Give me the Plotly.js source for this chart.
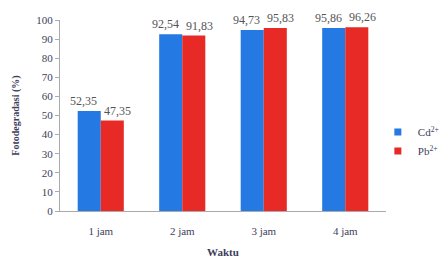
<!DOCTYPE html>
<html>
<head>
<meta charset="utf-8">
<script src="https://cdn.plot.ly/plotly-3.0.1.min.js"></script>
<style>html,body{margin:0;padding:0;background:#fff;}#chart{width:444px;height:259px;}</style>
</head>
<body>
<div id="chart"></div>
<script>
const categories = ["1 jam", "2 jam", "3 jam", "4 jam"];
const cdValues = [52.35, 92.54, 94.73, 95.86];
const pbValues = [47.35, 91.83, 95.83, 96.26];
const yTicks = [0, 10, 20, 30, 40, 50, 60, 70, 80, 90, 100];
const seriesNames = ["Cd<sup>2+</sup>", "Pb<sup>2+</sup>"];
const seriesColors = ["#2479e2", "#e82a26"];

const fmt = v => v.toFixed(2).replace('.', ',');
const FAM = "'Liberation Serif', 'Times New Roman', serif";
const font = {family: FAM, size: 11, color: "#3e3e5c"};

const bar = (vals, i) => ({
  type: "bar", name: seriesNames[i], x: categories, y: vals, showlegend: false,
  marker: {color: seriesColors[i]}
});
const legendItem = i => ({
  type: "scatter", mode: "markers", name: seriesNames[i], x: [null], y: [null],
  marker: {symbol: "square", size: 7, color: seriesColors[i]}, showlegend: true
});

const traces = [bar(cdValues, 0), bar(pbValues, 1), legendItem(0), legendItem(1)];

const labelShift = [-17, 17];
const annotations = [];
[cdValues, pbValues].forEach((vals, s) => {
  vals.forEach((v, k) => {
    annotations.push({x: categories[k], y: v, xref: "x", yref: "y", text: fmt(v),
      showarrow: false, yanchor: "bottom", xanchor: "center", xshift: labelShift[s], yshift: 1,
      font: {family: FAM, size: 12, color: "#555"}});
  });
});

const layout = {
  width: 444, height: 259,
  margin: {l: 60, r: 58, t: 20, b: 48, autoexpand: false},
  paper_bgcolor: "#fff", plot_bgcolor: "#fff",
  font: font,
  barmode: "group", bargap: 0.434, bargroupgap: 0,
  showlegend: true,
  legend: {x: 0.975, y: 0.364, xanchor: "left", yanchor: "middle",
           font: {family: FAM, size: 11, color: "#3e3e5c"},
           itemwidth: 30, bgcolor: "rgba(0,0,0,0)"},
  annotations: annotations,
  xaxis: {showline: true, linecolor: "#aaa", linewidth: 1, ticks: "",
          tickfont: font, showgrid: false, ticklabelstandoff: 10,
          title: {text: "<b>Waktu</b>", font: {family: FAM, size: 11, color: "#3e3e5c"}, standoff: 12}},
  yaxis: {range: [0, 100], tickvals: yTicks, showline: true, linecolor: "#aaa", linewidth: 1,
          ticks: "outside", ticklen: 4, tickcolor: "#aaa", showgrid: false, zeroline: false,
          tickfont: font,
          title: {text: "<b>Fotodegradasi (%)</b>", font: {family: FAM, size: 10, color: "#3e3e5c"}, standoff: 14}}
};

Plotly.newPlot("chart", traces, layout, {displayModeBar: false, staticPlot: true});
</script>
</body>
</html>
